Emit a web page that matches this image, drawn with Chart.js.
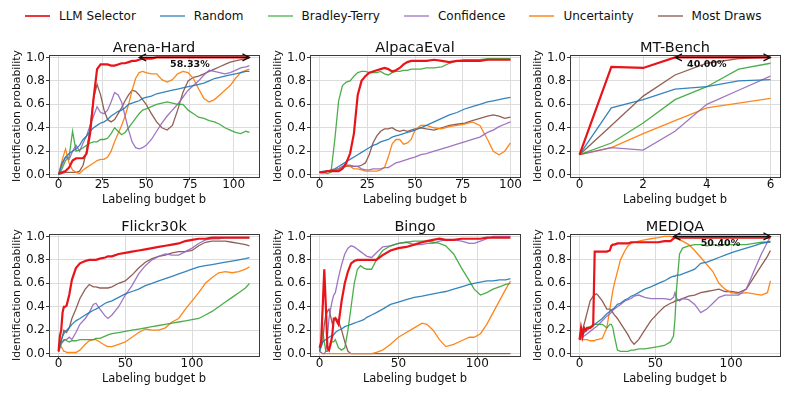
<!DOCTYPE html>
<html>
<head>
<meta charset="utf-8">
<script src="https://cdn.jsdelivr.net/npm/chart.js@4.4.0/dist/chart.umd.min.js"></script>
<style>
    body { margin: 0; background: #fff; width: 793px; height: 397px; position: relative; overflow: hidden; font-family: "DejaVu Sans", sans-serif; }
    #legend { position: absolute; left: 25px; top: 9px; display: flex; align-items: center; font-size: 12px; color: #111; }
    .item { display: flex; align-items: center; margin-right: 24px; }
    .sw { width: 25px; height: 2px; margin-right: 9px; }
    canvas { position: absolute; }
</style>
</head>
<body>
<div id="legend"></div>
<script>
// Series shared by all panels
const seriesNames = ['LLM Selector', 'Random', 'Bradley-Terry', 'Confidence', 'Uncertainty', 'Most Draws'];
const yTicks = [0, 0.2, 0.4, 0.6, 0.8, 1.0];

// Arena-Hard
const arenaX = [0,2,4,6,8,10,12,14,16,18, 20,22,24,26,28,30,32,34,36,38, 40,42,44,46,48,50,53,56,59,62, 65,68,71,74,77,80,83,86,89,92, 95,98,101,104,107,109];
const arenaLLM = [0.01,0.02,0.03,0.06,0.12,0.14,0.14,0.14,0.18,0.35, 0.65,0.9,0.94,0.94,0.94,0.93,0.93,0.94,0.95,0.95, 0.96,0.97,0.97,0.98,0.99,0.99,0.99,1.0,1.0,1.0, 1.0,1.0,1.0,1.0,1.0,1.0,1.0,1.0,1.0,1.0, 1.0,1.0,1.0,1.0,1.0,1.0];
const arenaRandom = [0.0,0.1,0.15,0.18,0.2,0.22,0.25,0.3,0.33,0.37, 0.4,0.42,0.44,0.45,0.47,0.5,0.52,0.54,0.55,0.57, 0.6,0.61,0.62,0.63,0.65,0.66,0.67,0.69,0.7,0.71, 0.72,0.73,0.74,0.75,0.76,0.77,0.78,0.8,0.82,0.83, 0.84,0.85,0.86,0.87,0.88,0.88];
const arenaBT = [0.0,0.05,0.12,0.15,0.37,0.2,0.21,0.23,0.25,0.27, 0.28,0.28,0.3,0.3,0.31,0.35,0.4,0.37,0.34,0.36, 0.4,0.44,0.48,0.52,0.55,0.56,0.58,0.6,0.61,0.62, 0.61,0.6,0.6,0.55,0.52,0.49,0.48,0.46,0.45,0.43, 0.4,0.38,0.36,0.35,0.37,0.36];
const arenaConf = [0.0,0.08,0.15,0.13,0.2,0.25,0.2,0.27,0.33,0.42, 0.5,0.58,0.53,0.52,0.55,0.62,0.7,0.68,0.62,0.5, 0.38,0.28,0.23,0.22,0.23,0.25,0.3,0.37,0.44,0.5, 0.55,0.6,0.66,0.72,0.76,0.8,0.85,0.89,0.88,0.87, 0.86,0.87,0.89,0.91,0.92,0.93];
const arenaUnc = [0.0,0.12,0.22,0.1,0.04,0.02,0.01,0.04,0.06,0.08, 0.1,0.12,0.13,0.13,0.15,0.2,0.28,0.35,0.42,0.5, 0.6,0.72,0.82,0.87,0.88,0.87,0.86,0.86,0.81,0.79, 0.81,0.86,0.88,0.87,0.82,0.73,0.65,0.62,0.64,0.68, 0.72,0.76,0.82,0.87,0.89,0.9];
const arenaDraws = [0.0,0.01,0.02,0.02,0.02,0.02,0.03,0.08,0.2,0.4, 0.65,0.77,0.68,0.55,0.47,0.45,0.47,0.52,0.57,0.63, 0.68,0.72,0.71,0.68,0.64,0.6,0.52,0.45,0.4,0.38, 0.42,0.55,0.7,0.8,0.83,0.84,0.86,0.88,0.9,0.92, 0.94,0.96,0.97,0.98,0.99,1.0];

// AlpacaEval
const alpacaX = [0,2,4,6,8,10,12,14,16,18, 20,22,24,26,28,30,32,34,36,38, 40,42,44,46,48,50,53,56,60,64, 68,72,76,80,84,88,91,94,97,100];
const alpacaLLM = [0.02,0.02,0.03,0.03,0.03,0.03,0.05,0.1,0.18,0.35, 0.68,0.8,0.84,0.87,0.88,0.89,0.9,0.91,0.9,0.88, 0.89,0.91,0.94,0.96,0.97,0.97,0.97,0.97,0.98,0.97, 0.96,0.97,0.97,0.97,0.97,0.98,0.98,0.98,0.98,0.98];
const alpacaRandom = [0.02,0.03,0.03,0.04,0.05,0.07,0.09,0.11,0.13,0.15, 0.17,0.19,0.21,0.23,0.25,0.26,0.28,0.29,0.3,0.32, 0.33,0.34,0.35,0.36,0.37,0.38,0.4,0.42,0.45,0.48, 0.51,0.53,0.56,0.58,0.6,0.62,0.63,0.64,0.65,0.66];
const alpacaBT = [0.02,0.02,0.01,0.02,0.3,0.63,0.76,0.79,0.8,0.84, 0.87,0.88,0.88,0.87,0.87,0.87,0.88,0.86,0.85,0.87, 0.88,0.88,0.89,0.89,0.9,0.9,0.9,0.91,0.91,0.92, 0.95,0.97,0.98,0.98,0.98,0.99,0.99,0.99,0.99,0.99];
const alpacaConf = [0.02,0.02,0.03,0.03,0.04,0.05,0.07,0.08,0.08,0.07, 0.07,0.05,0.04,0.04,0.05,0.05,0.05,0.06,0.06,0.08, 0.1,0.11,0.12,0.13,0.14,0.15,0.17,0.18,0.2,0.22, 0.24,0.26,0.28,0.3,0.32,0.36,0.38,0.41,0.43,0.45];
const alpacaUnc = [0.02,0.02,0.03,0.03,0.04,0.05,0.07,0.08,0.07,0.05, 0.05,0.04,0.03,0.03,0.03,0.03,0.04,0.06,0.15,0.26, 0.3,0.3,0.26,0.27,0.3,0.38,0.42,0.42,0.4,0.39, 0.41,0.42,0.43,0.45,0.42,0.3,0.2,0.17,0.2,0.27];
const alpacaDraws = [0.02,0.02,0.03,0.03,0.04,0.05,0.06,0.07,0.07,0.07, 0.07,0.08,0.1,0.17,0.27,0.33,0.37,0.39,0.39,0.4, 0.38,0.37,0.38,0.37,0.38,0.39,0.4,0.39,0.38,0.4, 0.42,0.43,0.44,0.46,0.48,0.5,0.51,0.5,0.48,0.49];

// MT-Bench
const mtX = [0, 1, 2, 3, 4, 5, 6];
const mtLLM = [0.17, 0.92, 0.91, 1.0, 1.0, 1.0, 1.0];
const mtRandom = [0.17, 0.57, 0.64, 0.73, 0.75, 0.8, 0.81];
const mtBT = [0.17, 0.27, 0.44, 0.64, 0.75, 0.9, 0.95];
const mtConf = [0.17, 0.23, 0.21, 0.37, 0.6, 0.72, 0.84];
const mtUnc = [0.17, 0.23, 0.35, 0.46, 0.57, 0.61, 0.65];
const mtDraws = [0.17, 0.42, 0.67, 0.85, 0.95, 0.99, 1.0];

// Flickr30k
const flickrX = [0,1,2,3,4,5,6,8,10,13, 16,20,23,26,28,31,35,37,40,45, 50,55,60,65,70,75,80,85,90,95, 100,105,110,115,120,125,130,135,140,143];
const flickrLLM = [0.02,0.15,0.2,0.35,0.4,0.4,0.41,0.5,0.63,0.73, 0.77,0.79,0.8,0.8,0.8,0.81,0.82,0.83,0.83,0.85, 0.86,0.87,0.88,0.89,0.9,0.91,0.92,0.93,0.94,0.96, 0.97,0.98,0.98,0.99,0.99,0.99,0.99,0.99,0.99,0.99];
const flickrRandom = [0.02,0.08,0.12,0.15,0.17,0.19,0.2,0.22,0.25,0.28, 0.3,0.33,0.35,0.37,0.38,0.4,0.43,0.44,0.45,0.48, 0.51,0.53,0.55,0.58,0.6,0.62,0.64,0.66,0.68,0.7, 0.72,0.74,0.75,0.76,0.77,0.78,0.79,0.8,0.81,0.82];
const flickrBT = [0.02,0.06,0.1,0.1,0.12,0.12,0.11,0.1,0.11,0.11, 0.12,0.12,0.12,0.12,0.13,0.13,0.15,0.16,0.17,0.18, 0.19,0.2,0.21,0.22,0.23,0.24,0.25,0.26,0.27,0.28, 0.29,0.3,0.33,0.36,0.4,0.44,0.48,0.52,0.56,0.6];
const flickrConf = [0.02,0.05,0.08,0.1,0.11,0.12,0.12,0.14,0.12,0.18, 0.25,0.3,0.35,0.42,0.43,0.38,0.32,0.3,0.33,0.4, 0.5,0.58,0.68,0.75,0.8,0.83,0.85,0.84,0.84,0.87, 0.9,0.94,0.97,0.98,0.98,0.99,0.99,0.99,0.99,0.99];
const flickrUnc = [0.02,0.05,0.06,0.04,0.02,0.02,0.01,0.01,0.01,0.01, 0.03,0.08,0.11,0.12,0.12,0.1,0.07,0.06,0.06,0.08, 0.1,0.14,0.18,0.21,0.2,0.2,0.22,0.27,0.3,0.38, 0.45,0.52,0.6,0.65,0.69,0.7,0.69,0.7,0.72,0.74];
const flickrDraws = [0.02,0.06,0.1,0.15,0.2,0.19,0.18,0.22,0.3,0.38, 0.47,0.55,0.59,0.57,0.57,0.56,0.56,0.56,0.57,0.6, 0.62,0.67,0.73,0.78,0.81,0.83,0.84,0.86,0.87,0.87, 0.88,0.92,0.95,0.96,0.96,0.96,0.95,0.94,0.93,0.92];

// Bingo
const bingoX = [0,1,2,3,4,5,6,7,8,9, 10,12,14,16,18,20,22,24,26,28, 30,33,36,40,45,50,55,60,65,68, 72,76,80,85,90,95,98,102,106,110, 114,118,121];
const bingoLLM = [0.05,0.1,0.4,0.72,0.4,0.05,0.03,0.08,0.15,0.3, 0.3,0.25,0.45,0.6,0.7,0.77,0.79,0.8,0.8,0.8, 0.8,0.8,0.8,0.84,0.88,0.9,0.91,0.93,0.95,0.96, 0.97,0.98,0.97,0.97,0.98,0.98,0.98,0.98,0.99,0.99, 0.99,0.99,0.99];
const bingoRandom = [0.02,0.06,0.1,0.11,0.12,0.13,0.14,0.15,0.15,0.16, 0.18,0.2,0.21,0.23,0.24,0.25,0.26,0.27,0.28,0.29, 0.31,0.33,0.35,0.38,0.42,0.44,0.46,0.48,0.49,0.5, 0.51,0.52,0.53,0.55,0.57,0.59,0.6,0.61,0.62,0.62, 0.63,0.63,0.64];
const bingoBT = [0.02,0.1,0.2,0.1,0.02,0.02,0.05,0.1,0.1,0.1, 0.12,0.05,0.03,0.05,0.2,0.4,0.6,0.72,0.75,0.73, 0.72,0.72,0.8,0.88,0.92,0.94,0.95,0.96,0.96,0.96, 0.95,0.94,0.92,0.85,0.73,0.62,0.55,0.5,0.52,0.55, 0.57,0.59,0.6];
const bingoConf = [0.02,0.01,0.0,0.0,0.02,0.15,0.3,0.38,0.45,0.5, 0.52,0.65,0.76,0.85,0.9,0.92,0.91,0.89,0.87,0.85, 0.83,0.82,0.86,0.91,0.92,0.94,0.95,0.93,0.93,0.94, 0.94,0.96,0.97,0.97,0.96,0.94,0.94,0.96,0.98,1.0, 1.0,1.0,1.0];
const bingoUnc = [0.02,0.01,0,0,0,0,0,0,0,0, 0,0,0,0,0,0,0,0,0,0, 0.0,0.0,0.01,0.03,0.08,0.14,0.18,0.22,0.26,0.25, 0.2,0.12,0.06,0.08,0.11,0.14,0.14,0.17,0.25,0.35, 0.45,0.55,0.62];
const bingoDraws = [0.03,0.06,0.1,0.25,0.33,0.36,0.38,0.32,0.26,0.28, 0.31,0.28,0.2,0.1,0.02,0,0,0,0,0, 0,0,0,0,0,0,0,0,0,0, 0,0,0,0,0,0,0,0,0,0, 0,0,0];

// MEDIQA
const mediqaX = [0,1,2,3,4,5,7,9,10,11, 12,15,18,20,21,22,23,25,27,30, 32,34,36,39,43,47,52,56,60,62, 63,64,66,68,72,76,80,84,88,92, 96,100,105,110,115,120,124,126];
const mediqaLLM = [0.12,0.22,0.15,0.22,0.2,0.22,0.22,0.24,0.87,0.87, 0.87,0.87,0.87,0.88,0.92,0.93,0.93,0.94,0.94,0.94, 0.94,0.95,0.95,0.95,0.95,0.95,0.95,0.96,0.96,0.98, 0.99,0.99,0.99,0.99,0.99,0.99,0.99,0.99,0.99,0.99, 0.99,0.99,0.99,0.99,0.99,0.99,0.99,0.99];
const mediqaRandom = [0.12,0.14,0.16,0.18,0.19,0.2,0.22,0.24,0.25,0.26, 0.27,0.3,0.34,0.36,0.37,0.38,0.39,0.42,0.43,0.46, 0.47,0.49,0.5,0.52,0.55,0.57,0.6,0.62,0.65,0.66, 0.66,0.67,0.67,0.68,0.7,0.72,0.77,0.78,0.8,0.82, 0.84,0.86,0.88,0.9,0.92,0.94,0.95,0.96];
const mediqaBT = [0.12,0.18,0.2,0.2,0.21,0.22,0.23,0.25,0.25,0.25, 0.25,0.25,0.22,0.25,0.25,0.22,0.15,0.03,0.02,0.02, 0.02,0.03,0.03,0.04,0.04,0.05,0.06,0.07,0.1,0.15, 0.3,0.55,0.85,0.9,0.92,0.93,0.93,0.92,0.93,0.92, 0.93,0.93,0.93,0.93,0.94,0.95,0.95,0.95];
const mediqaConf = [0.12,0.13,0.14,0.15,0.16,0.17,0.19,0.21,0.22,0.23, 0.24,0.28,0.32,0.34,0.35,0.37,0.38,0.4,0.42,0.45, 0.46,0.47,0.49,0.5,0.48,0.47,0.47,0.47,0.46,0.48, 0.52,0.47,0.45,0.47,0.46,0.42,0.35,0.38,0.43,0.48, 0.5,0.5,0.5,0.55,0.7,0.85,0.95,1.0];
const mediqaUnc = [0.12,0.12,0.12,0.12,0.12,0.12,0.11,0.11,0.11,0.12, 0.12,0.13,0.22,0.38,0.46,0.54,0.6,0.7,0.8,0.88, 0.92,0.94,0.95,0.96,0.97,0.98,0.99,1.0,1.0,0.99, 0.99,0.98,0.97,0.96,0.93,0.88,0.82,0.76,0.7,0.6, 0.55,0.52,0.51,0.52,0.51,0.5,0.52,0.62];
const mediqaDraws = [0.12,0.16,0.2,0.25,0.3,0.35,0.45,0.49,0.5,0.51, 0.5,0.45,0.38,0.38,0.37,0.35,0.33,0.3,0.26,0.2, 0.16,0.11,0.08,0.12,0.2,0.28,0.35,0.4,0.43,0.44, 0.45,0.45,0.46,0.47,0.49,0.5,0.52,0.53,0.54,0.55, 0.53,0.53,0.52,0.55,0.65,0.75,0.83,0.88];

// styling
const lineColors = ['#e8141a', 'rgba(31,119,180,0.9)', 'rgba(44,160,44,0.85)', 'rgba(148,103,189,0.9)', 'rgba(255,127,14,0.95)', 'rgba(140,86,75,0.95)'];
const legendColors = ['rgba(232,20,26,0.85)', 'rgba(31,119,180,0.6)', 'rgba(44,160,44,0.55)', 'rgba(148,103,189,0.6)', 'rgba(255,127,14,0.7)', 'rgba(140,86,75,0.65)'];
const lineWidths = [2.2, 1.3, 1.3, 1.3, 1.3, 1.3];

const panels = [
    { title: 'Arena-Hard', frame: [49, 55, 259, 177], xs: arenaX, ys: [arenaLLM, arenaRandom, arenaBT, arenaConf, arenaUnc, arenaDraws], xTicks: [0, 25, 50, 75, 100], gap: { from: 46, to: 109, label: '58.33%', labelX: 75, labelY: 0.94 } },
    { title: 'AlpacaEval', frame: [310, 55, 520, 177], xs: alpacaX, ys: [alpacaLLM, alpacaRandom, alpacaBT, alpacaConf, alpacaUnc, alpacaDraws], xTicks: [0, 25, 50, 75, 100] },
    { title: 'MT-Bench', frame: [570, 55, 780, 177], xs: mtX, ys: [mtLLM, mtRandom, mtBT, mtConf, mtUnc, mtDraws], xTicks: [0, 2, 4, 6], gap: { from: 3, to: 6, label: '40.00%', labelX: 4.0, labelY: 0.94 } },
    { title: 'Flickr30k', frame: [49, 234, 259, 356], xs: flickrX, ys: [flickrLLM, flickrRandom, flickrBT, flickrConf, flickrUnc, flickrDraws], xTicks: [0, 50, 100] },
    { title: 'Bingo', frame: [310, 234, 520, 356], xs: bingoX, ys: [bingoLLM, bingoRandom, bingoBT, bingoConf, bingoUnc, bingoDraws], xTicks: [0, 50, 100] },
    { title: 'MEDIQA', frame: [570, 234, 780, 356], xs: mediqaX, ys: [mediqaLLM, mediqaRandom, mediqaBT, mediqaConf, mediqaUnc, mediqaDraws], xTicks: [0, 50, 100], gap: { from: 62, to: 126, label: '50.40%', labelX: 93, labelY: 0.94 } }
];

// legend
const legendEl = document.getElementById('legend');
seriesNames.forEach((name, i) => {
    const item = document.createElement('div');
    item.className = 'item';
    item.innerHTML = '<div class="sw" style="background:' + legendColors[i] + '"></div><span>' + name + '</span>';
    legendEl.appendChild(item);
});

// frame box around plot area (matplotlib spines)
const frameBox = {
    id: 'frameBox',
    afterDatasetsDraw(chart) {
        const { ctx, chartArea: a } = chart;
        ctx.save();
        ctx.strokeStyle = '#3a3a3a';
        ctx.lineWidth = 1;
        ctx.strokeRect(Math.round(a.left) + 0.5, Math.round(a.top) + 0.5, Math.round(a.right - a.left), Math.round(a.bottom - a.top));
        ctx.restore();
    }
};

// double-headed gap arrow with label
const gapArrow = {
    id: 'gapArrow',
    afterDatasetsDraw(chart, args, opts) {
        const g = opts.gap;
        if (!g) return;
        const { ctx, scales: { x, y } } = chart;
        const x0 = x.getPixelForValue(g.from), x1 = x.getPixelForValue(g.to), yy = y.getPixelForValue(1.0);
        ctx.save();
        ctx.strokeStyle = '#111';
        ctx.lineWidth = 1.2;
        ctx.beginPath();
        ctx.moveTo(x0, yy); ctx.lineTo(x1, yy);
        ctx.moveTo(x0 + 7, yy - 3.5); ctx.lineTo(x0, yy); ctx.lineTo(x0 + 7, yy + 3.5);
        ctx.moveTo(x1 - 7, yy - 3.5); ctx.lineTo(x1, yy); ctx.lineTo(x1 - 7, yy + 3.5);
        ctx.stroke();
        ctx.font = 'bold 9.5px "DejaVu Sans"';
        ctx.fillStyle = '#111';
        ctx.textAlign = 'center';
        ctx.textBaseline = 'middle';
        ctx.fillText(g.label, x.getPixelForValue(g.labelX), y.getPixelForValue(g.labelY));
        ctx.restore();
    }
};

const Y_W = 49, TITLE_H = 15, X_H = 30, RIGHT_PAD = 13;

panels.forEach(p => {
    const [L, T, R, B] = p.frame;
    const cv = document.createElement('canvas');
    const w = Y_W + (R - L) + RIGHT_PAD;
    const h = TITLE_H + (B - T) + X_H;
    cv.width = w; cv.height = h;
    cv.style.width = w + 'px'; cv.style.height = h + 'px';
    cv.style.left = (L - Y_W) + 'px';
    cv.style.top = (T - TITLE_H) + 'px';
    document.body.appendChild(cv);

    const xMax = p.xs[p.xs.length - 1];
    const margin = xMax * 0.05;

    new Chart(cv, {
        type: 'line',
        data: {
            datasets: p.ys.map((ys, i) => ({
                label: seriesNames[i],
                data: p.xs.map((x, j) => ({ x: x, y: ys[j] })),
                borderColor: lineColors[i],
                borderWidth: lineWidths[i],
                pointRadius: 0,
                tension: 0,
                fill: false
            }))
        },
        options: {
            responsive: false,
            animation: false,
            devicePixelRatio: 1,
            layout: { padding: { left: 0, right: RIGHT_PAD, top: 0, bottom: 0 } },
            plugins: {
                legend: { display: false },
                tooltip: { enabled: false },
                title: {
                    display: true,
                    fullSize: false,
                    text: p.title,
                    color: '#111',
                    font: { family: 'DejaVu Sans', size: 14.5, weight: 'normal', lineHeight: 0.9 },
                    padding: { top: 2, bottom: 0 }
                },
                gapArrow: { gap: p.gap }
            },
            scales: {
                x: {
                    type: 'linear',
                    min: -margin,
                    max: xMax + margin,
                    afterBuildTicks: s => { s.ticks = p.xTicks.map(v => ({ value: v })); },
                    afterFit: s => { s.height = X_H; },
                    ticks: {
                        color: '#111',
                        font: { family: 'DejaVu Sans', size: 12, lineHeight: 0.8 },
                        padding: 0,
                        maxRotation: 0,
                        autoSkip: false,
                        callback: v => String(v)
                    },
                    grid: { color: '#dcdcdc', lineWidth: 1, tickLength: 3, tickColor: '#3a3a3a' },
                    border: { display: false },
                    title: {
                        display: true,
                        text: 'Labeling budget b',
                        color: '#111',
                        font: { family: 'DejaVu Sans', size: 11.5 },
                        padding: { top: 0, bottom: 0 }
                    }
                },
                y: {
                    type: 'linear',
                    min: -0.02,
                    max: 1.02,
                    afterBuildTicks: s => { s.ticks = yTicks.map(v => ({ value: v })); },
                    afterFit: s => { s.width = Y_W; },
                    ticks: {
                        color: '#111',
                        font: { family: 'DejaVu Sans', size: 12 },
                        padding: 1,
                        callback: v => v.toFixed(1)
                    },
                    grid: { color: '#dcdcdc', lineWidth: 1, tickLength: 3, tickColor: '#3a3a3a' },
                    border: { display: false },
                    title: {
                        display: true,
                        text: 'Identification probability',
                        color: '#111',
                        font: { family: 'DejaVu Sans', size: 10.8 },
                        padding: { top: 11, bottom: 0 }
                    }
                }
            }
        },
        plugins: [frameBox, gapArrow]
    });
});
</script>
</body>
</html>
